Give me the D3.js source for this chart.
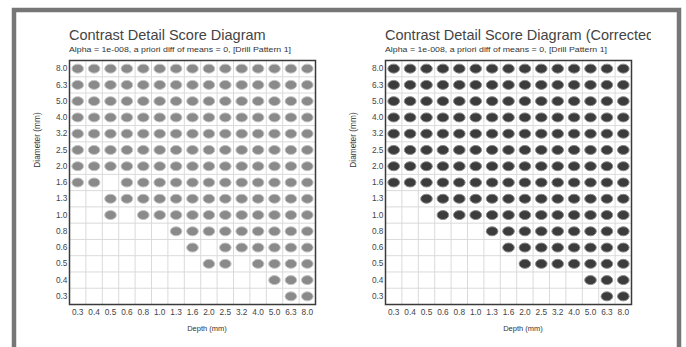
<!DOCTYPE html>
<html><head><meta charset="utf-8">
<script src="https://cdn.jsdelivr.net/npm/d3@7"></script>
<style>html,body{margin:0;padding:0;background:#fff;}svg{display:block;}</style>
</head><body>
<svg id="c" width="686" height="347"></svg>
<script>
const depths = ["0.3","0.4","0.5","0.6","0.8","1.0","1.3","1.6","2.0","2.5","3.2","4.0","5.0","6.3","8.0"];
const diameters = ["8.0","6.3","5.0","4.0","3.2","2.5","2.0","1.6","1.3","1.0","0.8","0.6","0.5","0.4","0.3"];

// 1 = detected (dot), 0 = not detected; one row per diameter, one column per depth
const originalScores = [
  [1,1,1,1,1,1,1,1,1,1,1,1,1,1,1],
  [1,1,1,1,1,1,1,1,1,1,1,1,1,1,1],
  [1,1,1,1,1,1,1,1,1,1,1,1,1,1,1],
  [1,1,1,1,1,1,1,1,1,1,1,1,1,1,1],
  [1,1,1,1,1,1,1,1,1,1,1,1,1,1,1],
  [1,1,1,1,1,1,1,1,1,1,1,1,1,1,1],
  [1,1,1,1,1,1,1,1,1,1,1,1,1,1,1],
  [1,1,0,1,1,1,1,1,1,1,1,1,1,1,1],
  [0,0,1,1,1,1,1,1,1,1,1,1,1,1,1],
  [0,0,1,0,1,1,1,1,1,1,1,1,1,1,1],
  [0,0,0,0,0,0,1,1,1,1,1,1,1,1,1],
  [0,0,0,0,0,0,0,1,0,1,1,1,1,1,1],
  [0,0,0,0,0,0,0,0,1,1,0,1,1,1,1],
  [0,0,0,0,0,0,0,0,0,0,0,0,1,1,1],
  [0,0,0,0,0,0,0,0,0,0,0,0,0,1,1]
];
const correctedScores = [
  [1,1,1,1,1,1,1,1,1,1,1,1,1,1,1],
  [1,1,1,1,1,1,1,1,1,1,1,1,1,1,1],
  [1,1,1,1,1,1,1,1,1,1,1,1,1,1,1],
  [1,1,1,1,1,1,1,1,1,1,1,1,1,1,1],
  [1,1,1,1,1,1,1,1,1,1,1,1,1,1,1],
  [1,1,1,1,1,1,1,1,1,1,1,1,1,1,1],
  [1,1,1,1,1,1,1,1,1,1,1,1,1,1,1],
  [1,1,1,1,1,1,1,1,1,1,1,1,1,1,1],
  [0,0,1,1,1,1,1,1,1,1,1,1,1,1,1],
  [0,0,0,1,1,1,1,1,1,1,1,1,1,1,1],
  [0,0,0,0,0,0,1,1,1,1,1,1,1,1,1],
  [0,0,0,0,0,0,0,1,1,1,1,1,1,1,1],
  [0,0,0,0,0,0,0,0,1,1,1,1,1,1,1],
  [0,0,0,0,0,0,0,0,0,0,0,0,1,1,1],
  [0,0,0,0,0,0,0,0,0,0,0,0,0,1,1]
];
const titles = ["Contrast Detail Score Diagram", "Contrast Detail Score Diagram (Corrected)"];
const subtitle = "Alpha = 1e-008, a priori diff of means = 0, [Drill Pattern 1]";
const xTitle = "Depth (mm)";
const yTitle = "Diameter (mm)";

const svg = d3.select("#c");
const FONT = "'Liberation Sans', Arial, sans-serif";

// outer frame
svg.append("rect").attr("x",14).attr("y",10).attr("width",665).attr("height",400)
  .attr("fill","none").attr("stroke","#767676").attr("stroke-width",4.5);

const defs = svg.append("defs");

function chart(ox, scores, title, dotFill, dotStroke, idx) {
  const g = svg.append("g").attr("transform", `translate(${ox},0)`);
  const x = d3.scaleBand().domain(depths).range([69.5, 315.5]);
  const y = d3.scaleBand().domain(diameters).range([60.5, 304.5]);

  defs.append("clipPath").attr("id","clip"+idx)
    .append("rect").attr("x",0).attr("y",0).attr("width",651-ox).attr("height",347);

  g.append("text").attr("x",69).attr("y",40).attr("font-family",FONT).attr("font-size",14.5)
    .attr("fill","#444").attr("clip-path",`url(#clip${idx})`).text(title);
  g.append("text").attr("x",69).attr("y",52).attr("font-family",FONT).attr("font-size",7.5)
    .attr("fill","#333").attr("textLength",222).attr("lengthAdjust","spacingAndGlyphs").text(subtitle);

  // grid
  const grid = g.append("g").attr("stroke","#dadada").attr("stroke-width",1);
  depths.forEach(d => grid.append("line").attr("x1",x(d)).attr("x2",x(d))
    .attr("y1",y.range()[0]).attr("y2",y.range()[1]));
  diameters.forEach(d => grid.append("line").attr("y1",y(d)).attr("y2",y(d))
    .attr("x1",x.range()[0]).attr("x2",x.range()[1]));

  // dots
  const cells = [];
  scores.forEach((row,i) => row.forEach((v,j) => { if (v) cells.push({d:depths[j], m:diameters[i]}); }));
  g.append("g").selectAll("ellipse").data(cells).join("ellipse")
    .attr("cx", c => x(c.d) + x.bandwidth()/2)
    .attr("cy", c => y(c.m) + y.bandwidth()/2)
    .attr("rx", 5.8).attr("ry", 4.5)
    .attr("fill", dotFill).attr("stroke", dotStroke).attr("stroke-width", 1);

  // box
  g.append("rect").attr("x",69.5).attr("y",60.5).attr("width",246).attr("height",244)
    .attr("fill","none").attr("stroke","#3a3a3a").attr("stroke-width",1.5);

  // axes
  const ya = g.append("g").attr("transform","translate(69.5,0)")
    .call(d3.axisLeft(y).tickSize(0).tickPadding(2));
  ya.select(".domain").remove();
  ya.selectAll("text").attr("font-family",FONT).attr("font-size",8.3).attr("fill","#444");
  const xa = g.append("g").attr("transform","translate(0,304.5)")
    .call(d3.axisBottom(x).tickSize(0).tickPadding(5));
  xa.select(".domain").remove();
  xa.selectAll("text").attr("font-family",FONT).attr("font-size",8.3).attr("fill","#444");

  g.append("text").attr("x",207).attr("y",331).attr("text-anchor","middle")
    .attr("font-family",FONT).attr("font-size",7.5).attr("fill","#333").text(xTitle);
  g.append("text").attr("transform","translate(39.5,140) rotate(-90)").attr("text-anchor","middle")
    .attr("font-family",FONT).attr("font-size",8.3).attr("fill","#333").text(yTitle);
}

chart(0, originalScores, titles[0], "#8a8a8a", "#c4c4c4", 0);
chart(316, correctedScores, titles[1], "#3c3c3c", "#8a8a8a", 1);
</script>
</body></html>
